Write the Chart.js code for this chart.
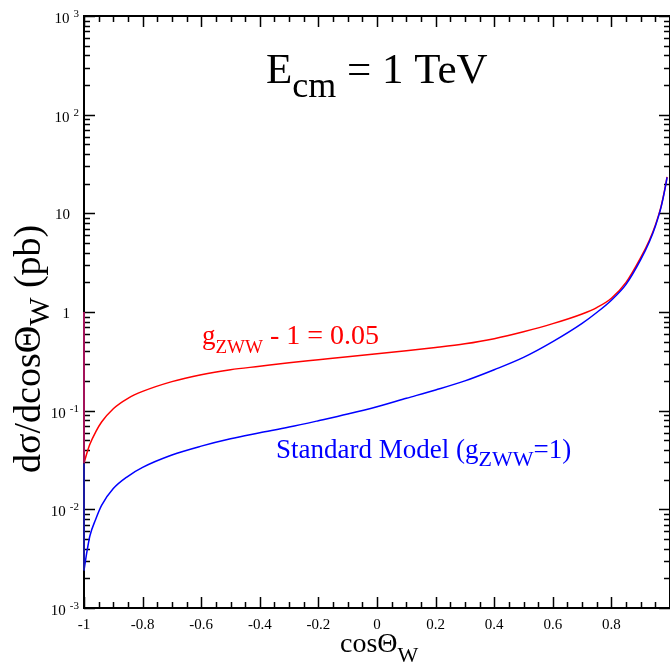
<!DOCTYPE html>
<html>
<head>
<meta charset="utf-8">
<script src="https://cdn.jsdelivr.net/npm/chart.js@4.4.0/dist/chart.umd.min.js"></script>
<style>
  body { margin: 0; background: #fff; }
  #wrap { width: 670px; height: 669px; }
</style>
</head>
<body>
<div id="wrap"><canvas id="grafico" width="670" height="669"></canvas></div>
<script>
// cos(theta_W) values
const cosTheta = [-1, -0.99, -0.98, -0.96, -0.94, -0.9, -0.85, -0.8, -0.7, -0.6, -0.5, -0.4, -0.3, -0.2, -0.1,
    0, 0.1, 0.2, 0.3, 0.4, 0.5, 0.6, 0.7, 0.75, 0.8, 0.85, 0.9, 0.93, 0.95, 0.97, 0.985, 0.99];
// g_ZWW - 1 = 0.05 (pb)
const sigmaAnomalo = [0.0293, 0.0372, 0.0457, 0.061, 0.0767, 0.1047, 0.1334, 0.1567, 0.197, 0.2317, 0.26, 0.2818, 0.3055, 0.328, 0.3524,
    0.3776, 0.4046, 0.4365, 0.4764, 0.537, 0.631, 0.762, 0.955, 1.109, 1.38, 1.995, 3.55, 5.37, 7.59, 11.9, 19.3, 23.4];
// Standard Model (pb)
const sigmaSM = [0.0024, 0.00372, 0.00537, 0.00794, 0.01096, 0.01622, 0.02163, 0.0266, 0.0355, 0.0437, 0.0519, 0.0596, 0.0682, 0.0791, 0.0923,
    0.1096, 0.1334, 0.1622, 0.2004, 0.26, 0.3467, 0.501, 0.767, 0.989, 1.318, 1.905, 3.39, 5.19, 7.41, 11.7, 19.05, 23.2];
// vertical pieces along cos = -1
const bordeX = [-1, -1];
const bordeAnomalo = [1, 0.0293];
const bordeSM = [0.0293, 0.0024];

const xTicks = [-1, -0.8, -0.6, -0.4, -0.2, 0, 0.2, 0.4, 0.6, 0.8];
const xTickLabels = ['-1', '-0.8', '-0.6', '-0.4', '-0.2', '0', '0.2', '0.4', '0.6', '0.8'];
const yTicks = [1e-3, 1e-2, 1e-1, 1, 10, 1e2, 1e3];
const yTickBase = ['10', '10', '10', '1', '10', '10', '10'];
const yTickExp = ['-3', '-2', '-1', '', '', '2', '3'];

const serif = '"Liberation Serif", "Times New Roman", serif';

function puntos(xs, ys) {
    return xs.map((x, i) => ({ x: x, y: ys[i] }));
}

// draws a run of text pieces [texto, tamaño, desplazamiento]
function escribir(ctx, x, y, piezas) {
    piezas.forEach(p => {
        ctx.font = p[1] + 'px ' + serif;
        ctx.fillText(p[0], x, y + p[2]);
        x += ctx.measureText(p[0]).width;
    });
}

const marco = {
    id: 'marco',
    beforeDatasetsDraw(chart) {
        const ctx = chart.ctx;
        const a = chart.chartArea;
        const sx = chart.scales.x;
        const sy = chart.scales.y;
        ctx.save();
        ctx.strokeStyle = '#000';
        ctx.lineWidth = 1.5;
        ctx.beginPath();
        // x ticks, major and minor, bottom and top
        for (let k = 0; k <= 40; k++) {
            const v = -1 + k * 0.05;
            const px = Math.round(sx.getPixelForValue(v)) + 0.5;
            const len = (k % 4 === 0) ? 11 : 6;
            ctx.moveTo(px, a.bottom); ctx.lineTo(px, a.bottom - len);
            ctx.moveTo(px, a.top); ctx.lineTo(px, a.top + len);
        }
        // y ticks, log decades
        for (let e = -3; e <= 3; e++) {
            for (let m = 1; m <= 9; m++) {
                const v = m * Math.pow(10, e);
                if (v > 1000) break;
                const py = Math.round(sy.getPixelForValue(v)) + 0.5;
                const len = (m === 1) ? 11 : 6;
                ctx.moveTo(a.left, py); ctx.lineTo(a.left + len, py);
                ctx.moveTo(a.right, py); ctx.lineTo(a.right - len, py);
            }
        }
        ctx.stroke();
        ctx.lineWidth = 2;
        ctx.strokeRect(a.left, a.top, a.right - a.left, a.bottom - a.top);

        // tick labels
        ctx.fillStyle = '#000';
        ctx.font = '15px ' + serif;
        ctx.textAlign = 'center';
        ctx.textBaseline = 'alphabetic';
        xTicks.forEach((v, i) => {
            ctx.fillText(xTickLabels[i], sx.getPixelForValue(v), a.bottom + 21);
        });
        yTicks.forEach((v, i) => {
            const py = sy.getPixelForValue(v);
            ctx.textAlign = 'right';
            if (yTickExp[i]) {
                ctx.font = '11px ' + serif;
                const w = ctx.measureText(yTickExp[i]).width;
                ctx.fillText(yTickExp[i], 79, py + 1);
                ctx.font = '15px ' + serif;
                ctx.fillText(yTickBase[i], 79 - w - 4, py + 7);
            } else {
                ctx.font = '15px ' + serif;
                ctx.fillText(yTickBase[i], 70, py + 6);
            }
        });
        ctx.restore();
    },
    afterDatasetsDraw(chart) {
        const ctx = chart.ctx;
        ctx.save();
        ctx.textAlign = 'left';
        ctx.textBaseline = 'alphabetic';

        // title E_cm = 1 TeV
        ctx.fillStyle = '#000';
        escribir(ctx, 266, 83, [['E', 43, 0], ['cm', 36, 14], [' = 1 TeV', 43, 0]]);

        // red label
        ctx.fillStyle = '#ff0000';
        escribir(ctx, 202, 344, [['g', 27, 0], ['ZWW', 19, 9], [' - 1 = 0.05', 28, 0]]);

        // blue label
        ctx.fillStyle = '#0000ff';
        escribir(ctx, 276, 458, [['Standard Model (g', 27, 0], ['ZWW', 22, 8], ['=1)', 27, 0]]);

        // x axis title
        ctx.fillStyle = '#000';
        escribir(ctx, 340, 652, [['cos\u0398', 28, 0], ['W', 22, 10]]);

        // y axis title (rotated)
        ctx.translate(40, 473);
        ctx.rotate(-Math.PI / 2);
        escribir(ctx, 0, 0, [['d\u03c3/dcos\u0398', 38, 0], ['W', 30, 9], [' (pb)', 38, 0]]);
        ctx.restore();
    }
};

const ctx = document.getElementById('grafico').getContext('2d');
new Chart(ctx, {
    type: 'line',
    data: {
        datasets: [
            {
                data: puntos(bordeX, bordeAnomalo),
                borderColor: '#a3135a',
                borderWidth: 2,
                pointRadius: 0,
                tension: 0,
                clip: 4
            },
            {
                data: puntos(bordeX, bordeSM),
                borderColor: '#1a1aa0',
                borderWidth: 2,
                pointRadius: 0,
                tension: 0,
                clip: 4
            },
            {
                data: puntos(cosTheta, sigmaSM),
                borderColor: '#0000ff',
                borderWidth: 1.5,
                pointRadius: 0,
                cubicInterpolationMode: 'monotone'
            },
            {
                data: puntos(cosTheta, sigmaAnomalo),
                borderColor: '#ff0000',
                borderWidth: 1.5,
                pointRadius: 0,
                cubicInterpolationMode: 'monotone'
            }
        ]
    },
    options: {
        responsive: false,
        animation: false,
        layout: { padding: { left: 84, top: 16, right: -4, bottom: 61 } },
        plugins: {
            legend: { display: false },
            tooltip: { enabled: false }
        },
        scales: {
            x: { type: 'linear', min: -1, max: 1, display: false },
            y: { type: 'logarithmic', min: 0.001, max: 1000, display: false }
        }
    },
    plugins: [marco]
});
</script>
</body>
</html>
